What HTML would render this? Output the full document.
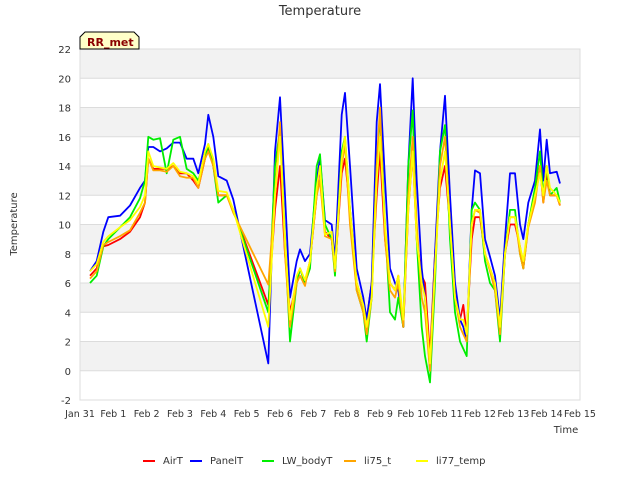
<!DOCTYPE html>
<html><head><meta charset="utf-8"><style>
body{margin:0;background:#fff;font-family:"Liberation Sans","DejaVu Sans",sans-serif}
svg text{font-family:"DejaVu Sans","Liberation Sans",sans-serif}
</style></head><body>
<svg id="c" width="640" height="480" viewBox="0 0 640 480">
<text x="320" y="15" text-anchor="middle" font-size="13" fill="#333">Temperature</text>
<text transform="translate(17,224) rotate(-90)" text-anchor="middle" font-size="10" fill="#333">Temperature</text>
<text x="566" y="433" text-anchor="middle" font-size="10" fill="#333">Time</text>
<g id="grid"></g><g id="series"></g><g id="axes"></g>
<g>
<path d="M80,49 L80,37 L85,32 L134,32 L139,37 L139,49 Z" fill="#ffffc8" stroke="#000" stroke-width="1"/>
<text x="87" y="46" font-size="11" font-weight="bold" fill="#8b0000">RR_met</text></g>
<g id="legend"></g>
</svg>
<script>
const categories=["AirT","PanelT","LW_bodyT","li75_t","li77_temp"];
const colors=["#ff0000","#0000ff","#00ee00","#ffa500","#ffff00"];
const yTicks=[-2,0,2,4,6,8,10,12,14,16,18,20,22];
const xTickLabels=["Jan 31","Feb 1","Feb 2","Feb 3","Feb 4","Feb 5","Feb 6","Feb 7","Feb 8","Feb 9","Feb 10","Feb 11","Feb 12","Feb 13","Feb 14","Feb 15"];
const times=[0.3,0.5,0.7,0.85,1.2,1.5,1.8,1.95,2.05,2.2,2.4,2.6,2.8,3.0,3.2,3.4,3.55,3.75,3.85,4.0,4.15,4.4,4.6,5.65,5.85,6.0,6.15,6.3,6.5,6.6,6.75,6.9,7.1,7.2,7.35,7.55,7.65,7.85,7.95,8.1,8.3,8.5,8.6,8.75,8.9,9.0,9.15,9.3,9.45,9.55,9.7,9.85,9.98,10.1,10.25,10.35,10.5,10.65,10.8,10.95,11.1,11.25,11.4,11.5,11.6,11.75,11.85,12.0,12.15,12.3,12.45,12.6,12.75,12.9,13.05,13.2,13.3,13.45,13.65,13.8,13.9,14.0,14.1,14.3,14.4];
const airT=[6.5,7.0,8.5,8.6,9.0,9.5,10.5,11.5,14.5,13.8,13.8,13.8,14.0,13.5,13.5,13.0,12.5,14.5,15.3,14.0,12.0,12.0,11.0,4.5,11,14,8,4,6,7,6,7.5,12,14,9.5,9.0,7,13.5,14.5,11,6,4.5,3.5,6,12,15,9,6,5.5,6.5,3,11,15,9,6.5,6,1,8,12.5,14,10,5,3.5,4.5,2.5,9,10.5,10.5,8,7,6,3,8,10,10,8.5,7,10,12,14,11.5,13.5,12,12,11.3];
const panelT=[6.8,7.5,9.5,10.5,10.6,11.3,12.5,13.0,15.3,15.3,15.0,15.2,15.6,15.6,14.5,14.5,13.5,15.5,17.5,16.0,13.3,13.0,11.7,0.5,15,18.7,12,5,7.5,8.3,7.5,8,13,14.5,10.3,10,7.5,17.5,19,14,7,5,3.5,6,17,19.6,13,7,6,5.5,3,14,20,13,7,5,0,8,15,18.8,12,6,3.5,3,2,11,13.7,13.5,9,7.8,6.5,3.5,9,13.5,13.5,10,9,11.5,13,16.5,13,15.8,13.5,13.6,12.8];
const lwBodyT=[6.0,6.5,8.5,9.0,9.8,10.5,11.8,13.0,16.0,15.8,15.9,13.5,15.8,16.0,13.8,13.5,13.0,14.5,15.5,14.0,11.5,12.0,11.0,4.0,14,16.5,9,2,6,7,6,7,14,14.8,10,9,6.5,15,16,11,5.5,4,2,5,14,17.5,10,4,3.5,5,3,14,17.8,9,3,1,-0.8,6,15,16.8,9,4,2,1.5,1,11,11.5,11,7.5,6,5.5,2,8,11,11,8,7,10,12.5,15,12,14,12,12.5,11.5];
const li75T=[6.3,6.8,8.6,8.8,9.2,9.6,10.8,11.5,14.5,13.7,13.7,13.6,14.0,13.3,13.2,13.2,12.5,14.5,15.0,14.0,12.0,12.0,10.8,5.9,12,17,8,3,6,6.5,5.8,7.5,12,13,9.2,9,6.8,14,15.5,10,5.5,4,2.5,5,14,18,9,5.5,5,6,3,12,16,10,5,4,0,7,14,16,10,5,3,2.5,2,10,11,10.8,8,6.8,5.5,2.5,8,10.5,10.5,8,7,9.8,11.5,14,11.5,13,12,12,11.3];
const li77Temp=[6.8,7.3,8.8,9.2,9.8,10.3,11.2,12.0,15.0,14.0,13.9,13.8,14.2,13.6,13.5,13.3,12.8,15.0,15.5,14.5,12.3,12.2,11.0,3.0,12,16,9,3.5,6.5,7,6.2,7.5,12.5,14,9.3,9.5,7,14.5,16,11,6,4.5,3,5,13,16,10,6,5.5,6.5,3.5,11,15,9,6,5,0.5,7,13,15,10,5,3.5,3.5,2.5,10,11,11,8,7,6,3,8,10.5,10.5,8.5,7.5,10,12,13.5,12,14,12.5,12,11.5];
const series=[airT,panelT,lwBodyT,li75T,li77Temp];
const X0=80,X1=580,Y0=400,Y1=49,ymin=-2,ymax=22,xmin=0,xmax=15;
const xs=d=>X0+(d-xmin)/(xmax-xmin)*(X1-X0);
const ys=v=>Y0-(v-ymin)/(ymax-ymin)*(Y0-Y1);
const NS="http://www.w3.org/2000/svg";
function mk(tag,attrs,parent){const e=document.createElementNS(NS,tag);for(const k in attrs)e.setAttribute(k,attrs[k]);parent.appendChild(e);return e;}
const grid=document.getElementById('grid'),axes=document.getElementById('axes'),sg=document.getElementById('series'),lg=document.getElementById('legend');
for(let i=0;i<yTicks.length-1;i++){
 if(Math.abs(yTicks[i]/2)%2===0){const r=mk('rect',{x:X0,y:ys(yTicks[i+1]),width:X1-X0,height:ys(yTicks[i])-ys(yTicks[i+1]),fill:'#f2f2f2'},grid);
 
 }
}
yTicks.forEach(v=>{
 const l=mk('line',{x1:X0,x2:X1,y1:ys(v),y2:ys(v),stroke:'#dcdcdc','stroke-width':1},grid);
 
 
 const t=mk('text',{x:X0-9,y:ys(v)+4,'text-anchor':'end','font-size':10,fill:'#333'},axes);t.textContent=v;
 
 
});
xTickLabels.forEach((s,i)=>{
 const t=mk('text',{x:xs(i),y:417,'text-anchor':'middle','font-size':9.5,fill:'#333'},axes);t.textContent=s;
 
 
});
const fr=mk('rect',{x:X0,y:Y1,width:X1-X0,height:Y0-Y1,fill:'none',stroke:'#ddd'},axes);


series.forEach((vals,si)=>{
 const d=times.map((t,i)=>(i?'L':'M')+xs(t).toFixed(1)+','+ys(vals[i]).toFixed(1)).join(' ');
 const p=mk('path',{d:d,fill:'none',stroke:colors[si],'stroke-width':1.8,'stroke-linejoin':'round'},sg);
 
 
});
const lx=[143,190,262,344,416];
categories.forEach((c,i)=>{
 const g=mk('g',{},lg);
 
 
 mk('line',{x1:lx[i],x2:lx[i]+12,y1:461,y2:461,stroke:colors[i],'stroke-width':2},g);
 const t=mk('text',{x:lx[i]+20,y:464,'font-size':10,fill:'#333'},g);t.textContent=c;
});
</script>
</body></html>
